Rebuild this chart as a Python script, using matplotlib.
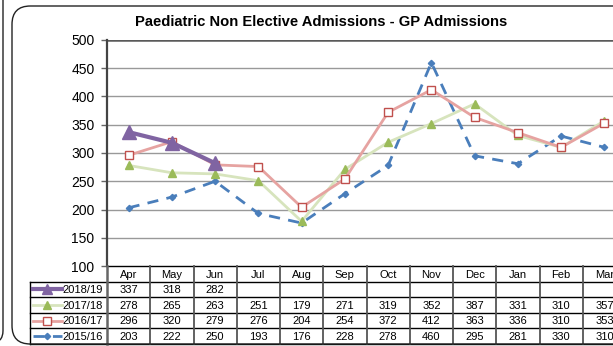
import matplotlib
matplotlib.use("Agg")
import matplotlib.pyplot as plt
from matplotlib.patches import FancyBboxPatch

plt.rcParams['font.family'] = ['Liberation Sans', 'DejaVu Sans']

months = ["Apr", "May", "Jun", "Jul", "Aug", "Sep", "Oct", "Nov", "Dec", "Jan", "Feb", "Mar"]
y2018_19 = [337, 318, 282]
y2017_18 = [278, 265, 263, 251, 179, 271, 319, 352, 387, 331, 310, 357]
y2016_17 = [296, 320, 279, 276, 204, 254, 372, 412, 363, 336, 310, 353]
y2015_16 = [203, 222, 250, 193, 176, 228, 278, 460, 295, 281, 330, 310]
series_names = ["2018/19", "2017/18", "2016/17", "2015/16"]
title = "Paediatric Non Elective Admissions - GP Admissions"

W, H = 613, 346
fig = plt.figure(figsize=(W / 100, H / 100), dpi=100)

def px_rect(x0, y0, x1, y1):
    return [x0 / W, 1 - y1 / H, (x1 - x0) / W, (y1 - y0) / H]

# outer frames
frame = FancyBboxPatch((12 / W, 2 / H), 700 / W, (344 - 6) / H,
                       boxstyle="round,pad=0,rounding_size=0.03",
                       transform=fig.transFigure, fill=False, lw=1.0,
                       ec="#222222", mutation_aspect=W / H)
fig.patches.append(frame)
left_panel = FancyBboxPatch((-60 / W, 3 / H), 63 / W, 360 / H,
                            boxstyle="round,pad=0,rounding_size=0.02",
                            transform=fig.transFigure, fill=False, lw=1.0,
                            ec="#222222", mutation_aspect=W / H)
fig.patches.append(left_panel)

col_w = 43.25
x_left, x_right = 107, 107 + 12 * col_w
ax = fig.add_axes(px_rect(x_left, 40, x_right, 266))
ax.set_xlim(0, 12)
ax.set_ylim(100, 500)
for s in ["top", "right", "bottom"]:
    ax.spines[s].set_visible(False)
ax.spines["left"].set_color("#444444")
ax.spines["left"].set_linewidth(1.6)
ax.set_xticks([])
ax.set_yticks(range(100, 501, 50))
ax.tick_params(axis="y", length=4, width=1, color="#666666", labelsize=10, pad=5)
for v in range(150, 451, 50):
    ax.axhline(v, color="#999999", lw=1.0, zorder=0)
ax.axhline(500, color="#5a5a5a", lw=1.8, zorder=0)

xs = [i + 0.5 for i in range(12)]
styles = {
    "2015/16": dict(color="#4a7ebb", lw=2.0, ls=(0, (4, 3)), marker="D", ms=3.2,
                    mfc="#4a7ebb", mec="#4a7ebb"),
    "2017/18": dict(color="#d7e4bd", lw=2.0, ls="-", marker="^", ms=6,
                    mfc="#9bbb59", mec="#9bbb59"),
    "2016/17": dict(color="#e6a3a1", lw=2.0, ls="-", marker="s", ms=5.5,
                    mfc="white", mec="#c0504d", mew=1.0),
    "2018/19": dict(color="#8064a2", lw=3.0, ls="-", marker="^", ms=10,
                    mfc="#8064a2", mec="#8064a2"),
}
data = {"2018/19": y2018_19, "2017/18": y2017_18, "2016/17": y2016_17, "2015/16": y2015_16}
for name in ["2015/16", "2017/18", "2016/17", "2018/19"]:
    vals = data[name]
    ax.plot(xs[:len(vals)], vals, clip_on=False, zorder=3, **styles[name])

fig.text(321 / W, 1 - 22 / H, title, ha="center", va="center",
         fontsize=10.6, fontweight="bold")

# data table under the chart
leg_w = (x_left - 30) / col_w
tax = fig.add_axes(px_rect(30, 266, x_right, 344))
tax.set_xlim(-leg_w, 12)
tax.set_ylim(5, 0)
tax.axis("off")

tax.plot([0, 12], [0, 0], color="black", lw=1.0, clip_on=False)
for r in range(1, 6):
    tax.plot([-leg_w, 12], [r, r], color="black", lw=1.0, clip_on=False)
for c in range(1, 13):
    tax.plot([c, c], [0, 5], color="#555555", lw=1.3, clip_on=False)
tax.plot([0, 0], [0, 5], color="#666666", lw=1.8, clip_on=False)
tax.plot([-leg_w, -leg_w], [1, 5], color="black", lw=1.0, clip_on=False)

for i, m in enumerate(months):
    tax.text(i + 0.5, 0.55, m, ha="center", va="center", fontsize=8)

key_x0, key_x1 = (33 - 107) / col_w, (62 - 107) / col_w
key_mid = (47 - 107) / col_w
for r, name in enumerate(series_names, start=1):
    st = dict(styles[name])
    marker = st.pop("marker")
    ms = st.pop("ms")
    mfc = st.pop("mfc")
    mec = st.pop("mec")
    mew = st.pop("mew", 1.0)
    tax.plot([key_x0, key_x1], [r + 0.5, r + 0.5], clip_on=False, **st)
    tax.plot([key_mid], [r + 0.5], marker=marker, ms=min(ms, 7), mfc=mfc, mec=mec,
             mew=mew, ls="none", clip_on=False)
    tax.text((103 - 107) / col_w, r + 0.55, name, ha="right", va="center", fontsize=8)
    for i, v in enumerate(data[name]):
        tax.text(i + 0.5, r + 0.55, str(v), ha="center", va="center", fontsize=8)

fig.savefig("out.png", dpi=100)
